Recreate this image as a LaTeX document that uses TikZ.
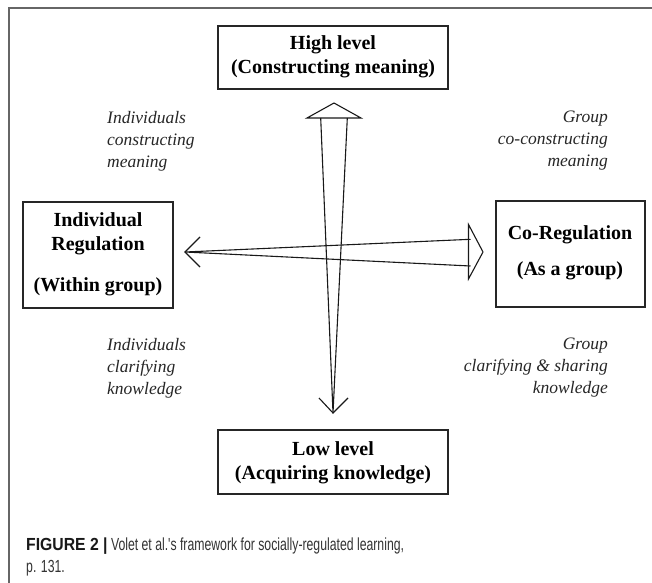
\documentclass[tikz,border=0pt]{standalone}
\usepackage{fontspec}
\setmainfont{Liberation Serif}
\newfontfamily\capfont[FakeStretch=0.7]{Liberation Sans}
\newfontfamily\capbold[FakeStretch=0.9]{Liberation Sans Bold}
\begin{document}
\begin{tikzpicture}[x=1bp,y=-1bp,
  box/.style={draw=black!85,line width=1.3bp,inner sep=0pt,minimum width=#1},
  boxtext/.style={font=\fontsize{20bp}{24bp}\selectfont\bfseries,align=center},
  lbl/.style={font=\fontsize{17.5bp}{22bp}\selectfont\itshape,text=black!85,inner sep=0pt},
  arr/.style={draw=black!90,line width=1.1bp,line join=miter}]
\useasboundingbox (0,0) rectangle (652,583);
% frame
\draw[black!60,line width=1.6bp] (9,583) -- (9,8) -- (652,8);
% boxes
\draw[box=0] (218,26) rectangle (448,89);
\draw[box=0] (218,430) rectangle (448,494);
\draw[box=0] (23,202) rectangle (173,308);
\draw[box=0] (496,201) rectangle (645,307);
\node[boxtext] (high) at (333,57) {High level\\(Constructing meaning)};
\node[boxtext] (low) at (333,463) {Low level\\(Acquiring knowledge)};
\node[boxtext] (indiv) at (98,234) {Individual\\Regulation};
\node[boxtext] (within) at (98,287) {(Within group)};
\node[boxtext] (coreg) at (570,235) {Co-Regulation};
\node[boxtext] (asgroup) at (570,271) {(As a group)};
% vertical arrow
\coordinate (vtop) at (334,103);
\coordinate (vbot) at (333,413);
\draw[arr] (307,118) -- (vtop) -- (361,118) -- cycle;
\draw[arr] (320.7,118) -- (vbot) -- (347.3,118);
\draw[arr] (319,398) -- (vbot) -- (348,398);
% horizontal arrow
\coordinate (hleft) at (185,252);
\coordinate (hright) at (483,252);
\draw[arr] (200,237) -- (hleft) -- (200,267);
\draw[arr] (470.5,239.3) -- (hleft) -- (470.5,266);
\draw[arr] (468.5,224.5) -- (hright) -- (468.5,279) -- cycle;
% labels
\node[lbl,align=left,anchor=north west] (l1) at (107,111) {Individuals\\constructing\\meaning};
\node[lbl,align=right,anchor=north east] (l2) at (608,111) {Group\\co-constructing\\meaning};
\node[lbl,align=left,anchor=north west] (l3) at (107,338) {Individuals\\clarifying\\knowledge};
\node[lbl,align=right,anchor=north east] (l4) at (608,338) {Group\\clarifying \& sharing\\knowledge};
% caption
\node[anchor=west,inner sep=0pt,font=\capfont\fontsize{17.5bp}{21.5bp}\selectfont,text=black!80,align=left] (cap) at (26,557)
  {{\capbold\color{black!90}FIGURE 2 |} Volet et al.'s framework for socially-regulated learning,\\p. 131.};
\end{tikzpicture}
\end{document}
